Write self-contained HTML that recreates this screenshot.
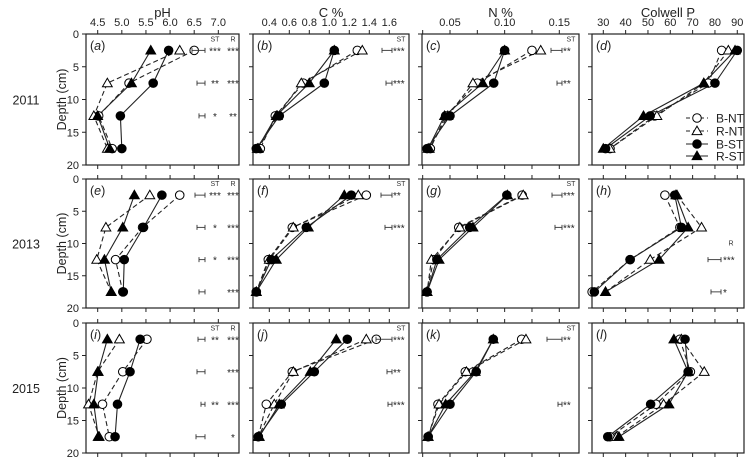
<!DOCTYPE html>
<html><head><meta charset="utf-8">
<style>
html,body{margin:0;padding:0;background:#fff;}
svg{display:block;font-family:"Liberation Sans",Arial,sans-serif;}
</style></head>
<body>
<svg id="chart" width="750" height="457" viewBox="0 0 750 457"></svg>
<script>
// ---- data ----
const depths = [2.5, 7.5, 12.5, 17.5];
const seriesNames = ["B-NT", "R-NT", "B-ST", "R-ST"];
const years = ["2011", "2013", "2015"];
const variables = ["pH", "C %", "N %", "Colwell P"];
const panelLetters = ["a","b","c","d","e","f","g","h","i","j","k","l"];
const pH2011 = [[6.5,5.15,4.52,4.8],[6.2,4.7,4.42,4.7],[5.97,5.65,4.97,5.0],[5.6,5.2,4.5,4.75]];
const C2011 = [[1.28,0.74,0.46,0.31],[1.33,0.72,0.48,0.29],[1.05,0.95,0.5,0.27],[1.05,0.8,0.47,0.28]];
const N2011 = [[0.125,0.075,0.046,0.032],[0.133,0.071,0.048,0.031],[0.10,0.09,0.05,0.029],[0.10,0.08,0.045,0.030]];
const P2011 = [[83,77,53,33],[86,75,54,33],[90,80,51,31],[89,75,48,30]];
const pH2013 = [[6.2,5.43,4.87,5.02],[5.58,4.67,4.48,4.78],[5.83,5.45,5.05,5.03],[5.26,5.02,4.64,4.78]];
const C2013 = [[1.37,0.63,0.39,0.27],[1.29,0.64,0.40,0.27],[1.22,0.77,0.42,0.27],[1.15,0.79,0.47,0.27]];
const N2013 = [[0.116,0.058,0.035,0.029],[0.117,0.059,0.033,0.029],[0.102,0.068,0.038,0.029],[0.1025,0.071,0.040,0.029]];
const P2013 = [[57.6,64.3,42,25],[63,74,51,31],[62,65,42,26],[62.5,68,55,31]];
const pH2015 = [[5.52,5.02,4.6,4.74],[4.95,4.5,4.31,4.53],[5.38,5.17,4.91,4.86],[4.7,4.51,4.42,4.51]];
const C2015 = [[1.47,0.63,0.37,0.29],[1.37,0.64,0.45,0.29],[1.18,0.85,0.52,0.29],[1.07,0.81,0.50,0.30]];
const N2015 = [[0.1156,0.064,0.039,0.030],[0.1195,0.065,0.040,0.030],[0.0896,0.074,0.050,0.030],[0.0896,0.073,0.046,0.030]];
const P2015 = [[64.3,69,53.6,33],[65,75.2,57,36],[66.6,68,51.2,32],[61.6,68,59.4,37]];
const allData = [[pH2011,C2011,N2011,P2011],[pH2013,C2013,N2013,P2013],[pH2015,C2015,N2015,P2015]];
const pHTicks = [4.5,5.0,5.5,6.0,6.5,7.0];
const pHTickLabels = ["4.5","5.0","5.5","6.0","6.5","7.0"];
const CTicks = [0.4,0.6,0.8,1.0,1.2,1.4,1.6];
const CTickLabels = ["0.4","0.6","0.8","1.0","1.2","1.4","1.6"];
const NTicks = [0.025,0.05,0.075,0.10,0.125,0.15];
const NTickLabels = ["","0.05","","0.10","","0.15"];
const PTicks = [30,40,50,60,70,80,90];
const PTickLabels = ["30","40","50","60","70","80","90"];
const depthTicks = [0,5,10,15,20];
const sigRows = [0,0,0, 0,0, 0,0, 1,1,1,1, 1,1, 1,1, 1,1, 2,2,2,2, 2,2,2, 2,2];
const sigCols = [0,0,0, 1,1, 2,2, 0,0,0,0, 1,1, 2,2, 3,3, 0,0,0,0, 1,1,1, 2,2];
const sigDepth = [0,1,2, 0,1, 0,1, 0,1,2,3, 0,1, 0,1, 2,3, 0,1,2,3, 0,1,2, 0,2];
const sigST = ["***","**","*", "***","***", "**","**", "***","*","*","", "**","***", "***","***", "","", "**","","**","", "***","**","***", "**","**"];
const sigR = ["***","***","**", "","", "","", "***","***","***","***", "","", "","", "***","*", "***","***","***","*", "","","", "",""];
const sigBarW = [13,8,6, 10,6, 11,5, 10,8,6,6, 11,7, 10,7, 13,10, 7,8,4,9, 16,5,4, 15,4];

// ---- layout ----
const colX = [[86,239],[253,409],[422,579],[592,744]];
const rowY = [[34,165],[179,308],[323,453]];
const xScales = [
  v => 97.7 + (v-4.5)*48.25,
  v => 269.3 + (v-0.4)*100,
  v => 450 + (v-0.05)*1093,
  v => 603.3 + (v-30)*2.233
];
const tickSets = [[pHTicks,pHTickLabels],[CTicks,CTickLabels],[NTicks,NTickLabels],[PTicks,PTickLabels]];
const yScale = (r, d) => rowY[r][0] + d/20*(rowY[r][1]-rowY[r][0]);

const svg = document.getElementById('chart');
const NS = 'http://www.w3.org/2000/svg';
function mk(tag, attrs, parent){
  const e = document.createElementNS(NS, tag);
  for (const k in attrs) e.setAttribute(k, attrs[k]);
  (parent||svg).appendChild(e);
  return e;
}
function marker(g, i, x, y){
  let m;
  if (i===0||i===2){
    m = mk('circle',{cx:x,cy:y,r:4.3,fill:i===0?'#fff':'#000',stroke:'#000','stroke-width':1},g);
  } else {
    const s=4.9;
    m = mk('polygon',{points:`${x},${y-s} ${x-s},${y+s*0.75} ${x+s},${y+s*0.75}`,fill:i===1?'#fff':'#000',stroke:'#000','stroke-width':1},g);
  }
  return m;
}

variables.forEach((v,c)=>{
  const t = mk('text',{x:(colX[c][0]+colX[c][1])/2,y:17,'text-anchor':'middle','font-size':13,fill:'#222'});
  t.textContent = v;
  
  
});
years.forEach((yr,r)=>{
  const cy = (rowY[r][0]+rowY[r][1])/2;
  const t = mk('text',{x:26,y:cy+5,'text-anchor':'middle','font-size':12.5,fill:'#222'});
  t.textContent = yr;
  
  
  const d = mk('text',{x:0,y:0,transform:`translate(66,${cy}) rotate(-90)`,'text-anchor':'middle','font-size':12.5,fill:'#222'});
  d.textContent = 'Depth (cm)';
  
  
  depthTicks.forEach(dv=>{
    const tl = mk('text',{x:79,y:yScale(r,dv)+4,'text-anchor':'end','font-size':11,fill:'#222'});
    tl.textContent = String(dv);
    
    
  });
});

for (let r=0;r<3;r++){
  for (let c=0;c<4;c++){
    const g = mk('g',{});
    
    
    const [x0,x1]=colX[c], [y0,y1]=rowY[r];
    const frame = mk('rect',{x:x0,y:y0,width:x1-x0,height:y1-y0,fill:'none',stroke:'#222','stroke-width':1.2},g);
    
    
    depthTicks.forEach(dv=>{
      const yy=yScale(r,dv);
      mk('line',{x1:x0-4,x2:x0,y1:yy,y2:yy,stroke:'#222','stroke-width':1},g);
    });
    const [tv,tl]=tickSets[c];
    tv.forEach((v,i)=>{
      const xx=xScales[c](v);
      mk('line',{x1:xx,x2:xx,y1:y0-4,y2:y0,stroke:'#222','stroke-width':1},g);
      mk('line',{x1:xx,x2:xx,y1:y1,y2:y1+4,stroke:'#222','stroke-width':1},g);
      if (r===0 && tl[i]){
        const t=mk('text',{x:xx,y:y0-8,'text-anchor':'middle','font-size':11,fill:'#222'},g);
        t.textContent=tl[i];
        
        
      }
    });
    const pl = mk('text',{x:x0+4,y:y0+16,'font-size':12.5,fill:'#222'},g);
    pl.innerHTML = '(<tspan font-style="italic">'+panelLetters[r*4+c]+'</tspan>)';
    
    
    const vals = allData[r][c];
    vals.forEach((s,i)=>{
      const pts = s.map((v,k)=>xScales[c](v)+','+yScale(r,depths[k])).join(' ');
      const ln = mk('polyline',{points:pts,fill:'none',stroke:'#222','stroke-width':1.1,'stroke-dasharray':(i<2)?'5,3':'none'},g);
      
      
    });
    vals.forEach((s,i)=>{
      s.forEach((v,k)=>{
        const m = marker(g,i,xScales[c](v),yScale(r,depths[k]));
        
        
      });
    });
  }
}

// significance annotations
const hasHeader = {};
sigRows.forEach((r,idx)=>{
  const c = sigCols[idx];
  const x1 = colX[c][1];
  const y = yScale(r, depths[sigDepth[idx]]);
  let barRight, stX, stAnchor, rX, rAnchor;
  if (c===0){ barRight = x1-34; stX = x1-24; stAnchor='middle'; rX = x1-6; rAnchor='middle'; }
  else if (c===3){ barRight = x1-23; rX = x1-21; rAnchor='start'; }
  else { barRight = x1-17; stX = x1-16; stAnchor='start'; }
  const barLeft = barRight - sigBarW[idx];
  const bg = mk('g',{});
  
  
  mk('line',{x1:barLeft,x2:barRight,y1:y,y2:y,stroke:'#333','stroke-width':0.9},bg);
  mk('line',{x1:barLeft,x2:barLeft,y1:y-2.5,y2:y+2.5,stroke:'#333','stroke-width':0.9},bg);
  mk('line',{x1:barRight,x2:barRight,y1:y-2.5,y2:y+2.5,stroke:'#333','stroke-width':0.9},bg);
  if (sigST[idx]){
    const t=mk('text',{x:stX,y:y+4,'text-anchor':stAnchor,'font-size':10,fill:'#222'});
    t.textContent=sigST[idx];
    
    
  }
  if (sigR[idx]){
    const t=mk('text',{x:rX,y:y+4,'text-anchor':rAnchor,'font-size':10,fill:'#222'});
    t.textContent=sigR[idx];
    
    
  }
  const key=r+'-'+c;
  if (!hasHeader[key]){
    hasHeader[key]=true;
    const hy = y-9;
    if (c!==3){
      const t=mk('text',{x:c===0?stX:x1-8,y:hy,'text-anchor':'middle','font-size':7,fill:'#333'});
      t.textContent='ST';
      
      
    }
    if (c===0 || c===3){
      const t=mk('text',{x:c===0?rX:x1-13,y:c===3?y-14:hy,'text-anchor':'middle','font-size':7,fill:'#333'});
      t.textContent='R';
      
      
    }
  }
});

// legend in panel d
const lg = mk('g',{});


const legendY = [118,131,144,156];
seriesNames.forEach((n,i)=>{
  const eg = mk('g',{},lg);
  
  
  mk('line',{x1:686,x2:708,y1:legendY[i],y2:legendY[i],stroke:'#222','stroke-width':1.1,'stroke-dasharray':i<2?'4,3':'none'},eg);
  marker(eg,i,697,legendY[i]);
  const t=mk('text',{x:716,y:legendY[i]+4.5,'font-size':12,fill:'#222'},eg);
  t.textContent=n;
});
</script>
</body></html>
